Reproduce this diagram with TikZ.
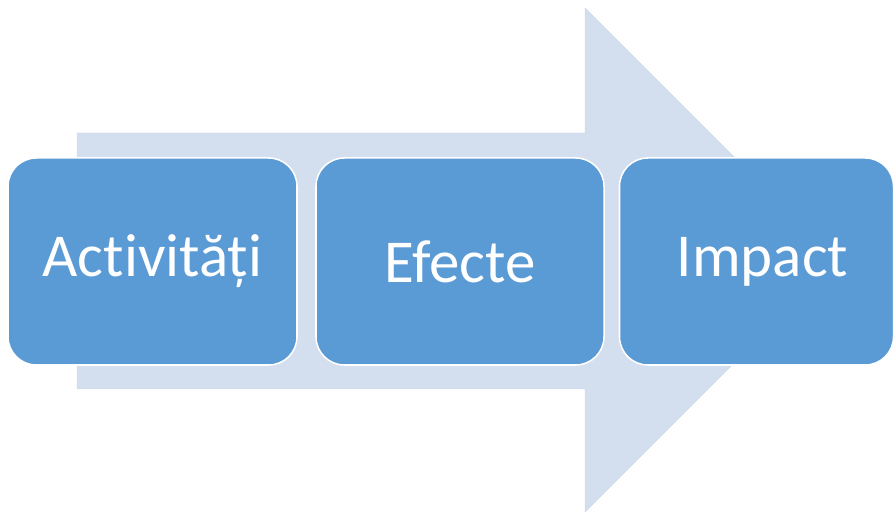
\documentclass[tikz,border=0pt]{standalone}
\usepackage{fontspec}
\setmainfont[Ligatures={NoCommon,NoContextual}]{Carlito}
\usepackage{tikz}
\usetikzlibrary{positioning,calc}
\definecolor{arrowBlue} {RGB}{211, 222, 239}
\definecolor{arrowEdge} {RGB}{200, 212, 232}
\definecolor{boxBlue}   {RGB}{ 91, 155, 213}

\begin{document}
\begin{tikzpicture}[x=0.03cm,y=0.03cm]
  \useasboundingbox (0,0) rectangle (896,512);

  % ── SAGEATA DE FUNDAL ─────────────────────────────────
  \fill[arrowBlue,draw=arrowEdge,line width=0.4pt]
    (77,123) -- (77,379) -- (585,379) -- (585,504)
    -- (837,252) -- (585,0) -- (585,123) -- cycle;

  % ── CASETE ────────────────────────────────────────────
  \tikzset{pas/.style={draw=white,fill=boxBlue,line width=1.3pt,
           rounded corners=0.85cm,minimum height=6.21cm,
           text=white,font=\fontsize{52}{58}\selectfont}}
  \node[pas,minimum width=8.67cm] (act) at (152.5,250.5){Activități};
  \node[pas,minimum width=8.64cm] (efe) at (460,250.5){Efecte};
  \node[pas,minimum width=8.22cm] (imp) at (756.5,250.5){\hspace*{0.36cm}Impact};

\end{tikzpicture}
\end{document}
